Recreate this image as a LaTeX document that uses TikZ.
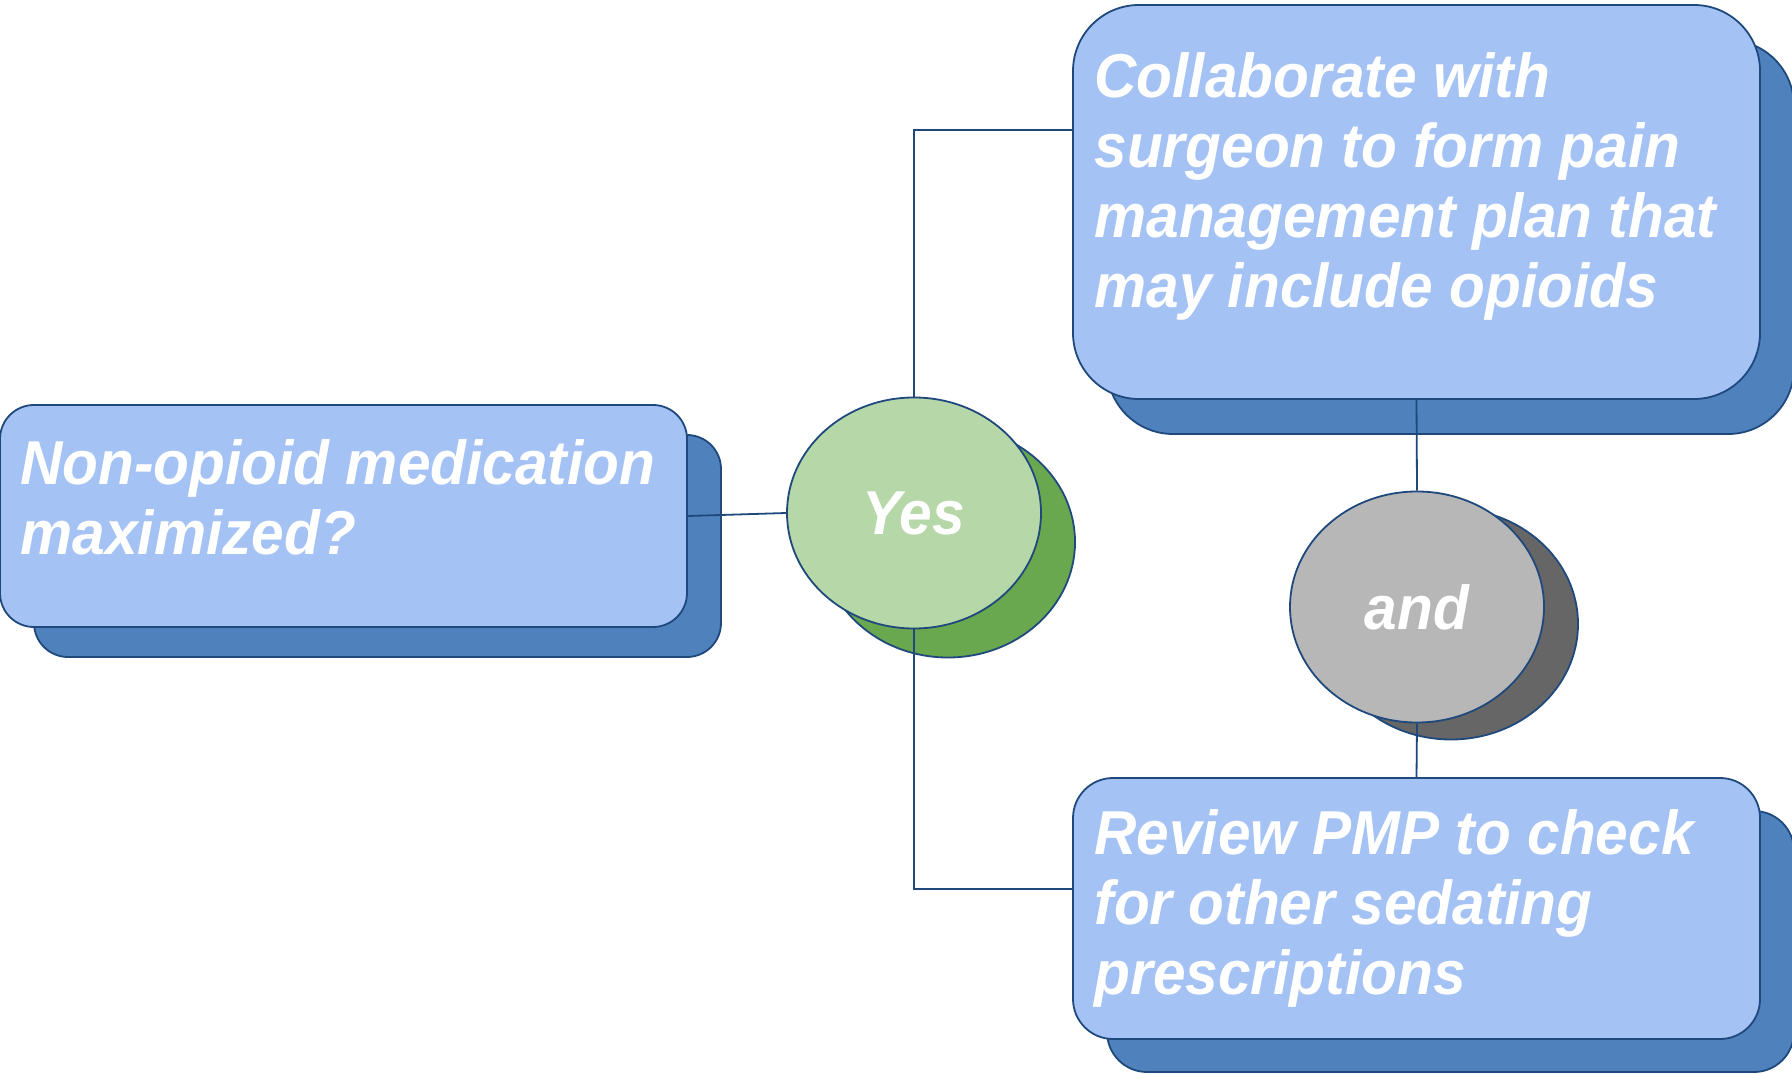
\documentclass[tikz,border=0pt]{standalone}
\usepackage{fontspec}
\newfontfamily\boxfont{Liberation Sans}[FakeStretch=0.945]
\usepackage{xcolor}
\usepackage{tikz}
\usetikzlibrary{shapes, shadows}

\definecolor{boxblue}{HTML}{A4C2F4}
\definecolor{shadeblue}{HTML}{4F81BD}
\definecolor{edgeblue}{HTML}{1F497D}
\definecolor{yesgreen}{HTML}{B6D7A8}
\definecolor{shadegreen}{HTML}{6AA84F}
\definecolor{andgrey}{HTML}{B7B7B7}
\definecolor{shadegrey}{HTML}{666666}

\begin{document}
\begin{tikzpicture}[
  x=0.5pt, y=-0.5pt,
  font=\boxfont\bfseries\itshape\fontsize{31}{35}\selectfont,
  box/.style={draw=edgeblue, line width=0.9pt, fill=boxblue, rectangle, rounded corners=#1, minimum width=343.5pt, inner sep=0pt},
  oval/.style={ellipse, draw=edgeblue, line width=0.9pt, minimum width=127pt, minimum height=115.5pt, inner sep=0pt, text=white},
  txt/.style={text=white, align=left, inner sep=0pt, anchor=base west},
  link/.style={draw=edgeblue, line width=0.9pt}
]
\useasboundingbox (0,0) rectangle (1792,1074);

% Boxes
\node[box=17pt, minimum height=111pt, copy shadow={shadow xshift=17pt, shadow yshift=-15pt, fill=shadeblue, draw=edgeblue}] (nonopioid) at (343.5,516) {};
\node[box=33pt, minimum height=197pt, copy shadow={shadow xshift=17pt, shadow yshift=-17.5pt, fill=shadeblue, draw=edgeblue}] (collab) at (1416.5,202) {};
\node[box=20pt, minimum height=130.5pt, copy shadow={shadow xshift=17pt, shadow yshift=-16.5pt, fill=shadeblue, draw=edgeblue}] (review) at (1416.5,908.5) {};

% Texts (base = last line)
\node[txt] (nonopioidtext) at ([xshift=10.5pt, yshift=-75pt]nonopioid.north west) {Non-opioid medication\\maximized?};
\node[txt] (collabtext) at ([xshift=11pt, yshift=-151.5pt]collab.north west) {Collaborate with\\surgeon to form pain\\management plan that\\may include opioids};
\node[txt] (reviewtext) at ([xshift=11pt, yshift=-108.5pt]review.north west) {Review PMP to check\\for other sedating\\prescriptions};

% Ovals
\node[oval, fill=yesgreen, copy shadow={shadow xshift=17pt, shadow yshift=-14.5pt, fill=shadegreen, draw=edgeblue}] (yes) at (914,513) {Yes};
\node[oval, fill=andgrey, copy shadow={shadow xshift=17pt, shadow yshift=-8.5pt, fill=shadegrey, draw=edgeblue}] (and) at (1417,607) {and};

% Connectors
\draw[link] (nonopioid.east) -- (yes.west);
\draw[link] (yes.north) |- ([yshift=36pt]collab.west);
\draw[link] (yes.south) |- ([yshift=9.75pt]review.west);
\draw[link] (collab.south) -- (and.north);
\draw[link] (and.south) -- (review.north);

\end{tikzpicture}
\end{document}
